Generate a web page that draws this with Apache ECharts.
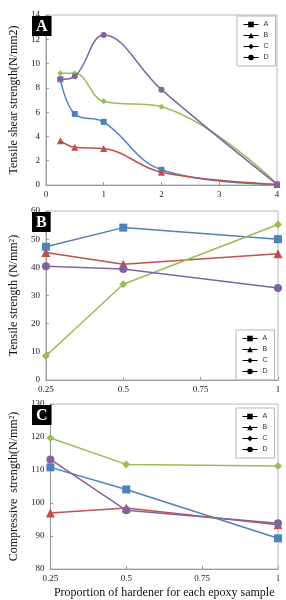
<!DOCTYPE html>
<html>
<head>
<meta charset="utf-8">
<script src="https://cdn.jsdelivr.net/npm/echarts@6/dist/echarts.min.js"></script>
<style>
  html, body { margin: 0; padding: 0; background: #fff; }
  #chart { width: 286px; height: 600px; }
</style>
</head>
<body>
<div id="chart"></div>
<script>
// series names and colours
const seriesNames = ['A', 'B', 'C', 'D']
const seriesColors = ['#4f81bd', '#c0504d', '#9bbb59', '#8064a2']
const seriesSymbols = ['rect', 'triangle', 'diamond', 'circle']

// panel A: tensile shear strength vs hardener amount
const xA = [0.25, 0.5, 1, 2, 4]
const shearA = [8.7, 5.85, 5.2, 1.25, 0.05]
const shearB = [3.65, 3.1, 3.0, 1.05, 0.05]
const shearC = [9.2, 9.2, 6.9, 6.45, 0.1]
const shearD = [8.7, 8.95, 12.35, 7.85, 0.05]

// panels B and C: proportion of hardener
const xBC = [0.25, 0.5, 1]
const tensileA = [47.3, 54.1, 50.0]
const tensileB = [45.3, 41.1, 44.8]
const tensileC = [8.5, 34.0, 55.2]
const tensileD = [40.4, 39.4, 32.7]

const compA = [110.8, 104.1, 89.3]
const compB = [97.0, 98.5, 93.4]
const compC = [119.7, 111.7, 111.2]
const compD = [113.2, 97.8, 93.9]

const panelLabels = ['A', 'B', 'C']
const yNames = ['Tensile shear strength(N/mm2)', 'Tensile strength (N/mm²)', 'Compressive  strength(N/mm²)']
const xName = 'Proportion of hardener for each epoxy sample'

const serif = 'Liberation Serif, Times New Roman, serif'

const chart = echarts.init(document.getElementById('chart'), null, { renderer: 'canvas' })

const grids = [
  { left: 31, width: 246, top: 15, height: 170 },
  { left: 31, width: 247, top: 211, height: 169 },
  { left: 31, width: 247, top: 404, height: 169 }
]

const makeX = (idx, min, max, interval, withName) => ({
  type: 'value',
  gridIndex: idx,
  min: min,
  max: max,
  interval: interval,
  name: withName ? xName : '',
  nameLocation: 'middle',
  nameGap: 18,
  nameTextStyle: { fontFamily: serif, fontSize: 12, color: '#111' },
  splitLine: { show: false },
  axisLine: { lineStyle: { color: '#9a9a9a' } },
  axisTick: { inside: true, length: 3, lineStyle: { color: '#9a9a9a' } },
  axisLabel: { fontFamily: serif, fontSize: 9, color: '#222', margin: 5 }
})

const makeY = (idx, min, max, interval) => ({
  type: 'value',
  gridIndex: idx,
  min: min,
  max: max,
  interval: interval,
  name: yNames[idx],
  nameLocation: 'middle',
  nameGap: 20,
  nameTextStyle: { fontFamily: serif, fontSize: 12, color: '#111' },
  splitLine: { show: false },
  axisLine: { show: true, lineStyle: { color: '#9a9a9a' } },
  axisTick: { inside: true, length: 3, lineStyle: { color: '#9a9a9a' } },
  axisLabel: { fontFamily: serif, fontSize: 9, color: '#222', margin: 6 }
})

const makeSeries = (idx, xs, lists, smooth, size) =>
  lists.map((vals, i) => ({
    name: seriesNames[i],
    type: 'line',
    xAxisIndex: idx,
    yAxisIndex: idx,
    smooth: smooth,
    clip: false,
    data: xs.map((x, j) => [x, vals[j]]),
    symbol: seriesSymbols[i],
    symbolSize: seriesSymbols[i] === 'triangle' ? size + 1 : size,
    lineStyle: { width: 1.5, color: seriesColors[i] },
    itemStyle: { color: seriesColors[i] },
    z: 3 + i
  }))

const makeLegend = (pos) => ({
  orient: 'vertical',
  left: pos.left,
  top: pos.top,
  padding: [5, 7, 5, 6],
  itemGap: 4,
  itemWidth: 15,
  itemHeight: 7,
  borderColor: '#b5b5b5',
  borderWidth: 1,
  selectedMode: false,
  textStyle: { fontFamily: 'Liberation Sans, Arial, sans-serif', fontSize: 7, color: '#333' },
  data: seriesNames.map(n => ({
    name: n,
    itemStyle: { color: '#000' },
    lineStyle: { color: '#000', width: 1 }
  }))
})

const option = {
  animation: false,
  backgroundColor: '#fff',
  title: panelLabels.map((t, i) => ({
    text: t,
    left: grids[i].left + 1,
    top: grids[i].top + 1,
    backgroundColor: '#000',
    padding: [1, 4, 0, 4],
    textStyle: { fontFamily: serif, fontSize: 16, fontWeight: 'bold', color: '#fff', lineHeight: 19 }
  })),
  grid: grids.map(g => Object.assign({ show: true, borderColor: '#b8b8b8', borderWidth: 1, containLabel: false }, g)),
  legend: [
    makeLegend({ left: 237, top: 16 }),
    makeLegend({ left: 236, top: 330 }),
    makeLegend({ left: 236, top: 408 })
  ],
  xAxis: [
    makeX(0, 0, 4, 1, false),
    makeX(1, 0.25, 1, 0.25, false),
    makeX(2, 0.25, 1, 0.25, true)
  ],
  yAxis: [
    makeY(0, 0, 14, 2),
    makeY(1, 0, 60, 10),
    makeY(2, 80, 130, 10)
  ],
  series: [
    ...makeSeries(0, xA, [shearA, shearB, shearC, shearD], 0.4, 6),
    ...makeSeries(1, xBC, [tensileA, tensileB, tensileC, tensileD], false, 8),
    ...makeSeries(2, xBC, [compA, compB, compC, compD], false, 8)
  ]
}

chart.setOption(option)
</script>
</body>
</html>
